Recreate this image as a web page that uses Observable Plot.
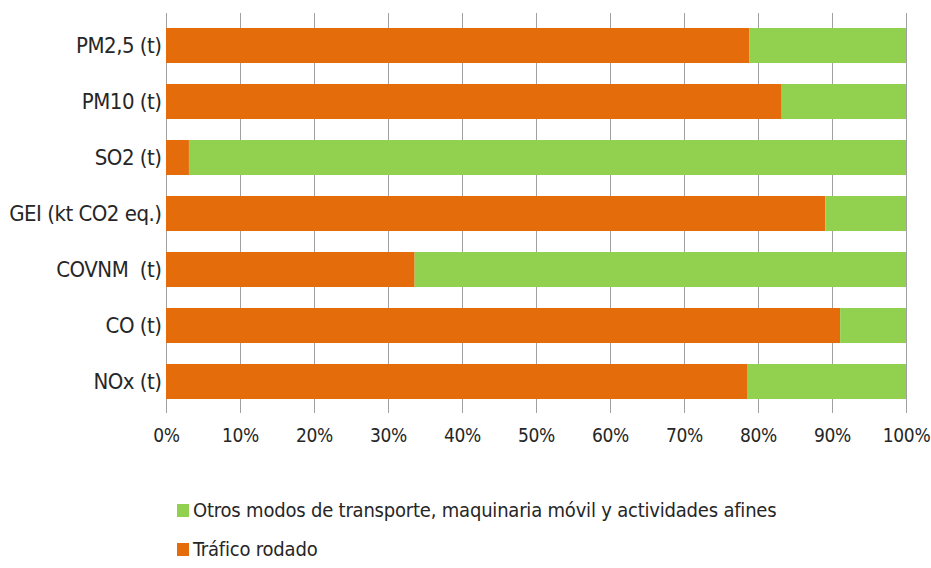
<!DOCTYPE html>
<html>
<head>
<meta charset="utf-8">
<script src="https://cdn.jsdelivr.net/npm/d3@7"></script>
<script src="https://cdn.jsdelivr.net/npm/@observablehq/plot@0.6"></script>
<style>
  body { margin: 0; background: #fff; font-family: "DejaVu Sans Condensed", "Liberation Sans", sans-serif; }
  #chart { position: relative; width: 931px; height: 568px; }
  .legend { position: absolute; left: 177px; font-size: 20px; letter-spacing: -0.2px; line-height: 24px; color: #262626; display: flex; align-items: center; white-space: nowrap; }
  .sw { display: inline-block; width: 12px; height: 13px; margin-right: 4px; }
</style>
</head>
<body>
<div id="chart"></div>
<script>
const categories = ["PM2,5 (t)", "PM10 (t)", "SO2 (t)", "GEI (kt CO2 eq.)", "COVNM  (t)", "CO (t)", "NOx (t)"];
const trafico = [78.8, 83.2, 3.1, 89.1, 33.6, 91.1, 78.6];
const otros = [21.2, 16.8, 96.9, 10.9, 66.4, 8.9, 21.4];
const seriesNames = ["Tráfico rodado", "Otros modos de transporte, maquinaria móvil y actividades afines"];
const seriesColors = ["#E46C0A", "#92D050"];
const xTicks = [0, 10, 20, 30, 40, 50, 60, 70, 80, 90, 100];

const rows = [];
categories.forEach((c, i) => rows.push({cat: c, series: seriesNames[0], value: trafico[i]}));
categories.forEach((c, i) => rows.push({cat: c, series: seriesNames[1], value: otros[i]}));

const plot = Plot.plot({
  width: 931,
  height: 460,
  marginTop: 13,
  marginBottom: 47,
  marginLeft: 166,
  marginRight: 25,
  style: {fontFamily: '"DejaVu Sans Condensed", sans-serif', color: "#262626", background: "#fff"},
  x: {domain: [0, 100], ticks: xTicks, tickFormat: d => d + "%", label: null},
  y: {domain: categories, paddingInner: 0.377, paddingOuter: 0.2, label: null},
  color: {domain: seriesNames, range: seriesColors},
  marks: [
    Plot.gridX(xTicks, {stroke: "#a0a0a0", strokeOpacity: 1, strokeWidth: 1}),
    Plot.ruleY([0], {frameAnchor: "bottom", stroke: "#a0a0a0"}),
    Plot.barX(rows, Plot.stackX({x: "value", y: "cat", fill: "series", order: seriesNames})),
    Plot.axisX({ticks: xTicks, tickFormat: d => d + "%", tickSize: 0, tickPadding: 15, fontSize: 19, label: null}),
    Plot.axisY({tickSize: 0, tickPadding: 5, fontSize: 22, label: null})
  ]
});
plot.querySelectorAll("g[aria-label='x-axis tick label'] text").forEach(t => t.setAttribute("letter-spacing", "-0.3"));
plot.querySelectorAll("g[aria-label='y-axis tick label'] text").forEach(t => t.setAttribute("letter-spacing", "-0.5"));
plot.querySelectorAll("text").forEach(t => t.setAttribute("fill", "#262626"));
const chart = document.getElementById("chart");
chart.appendChild(plot);

const legendItems = [
  {name: seriesNames[1], color: seriesColors[1], top: 498},
  {name: seriesNames[0], color: seriesColors[0], top: 537}
];
legendItems.forEach(it => {
  const d = document.createElement("div");
  d.className = "legend";
  d.style.top = it.top + "px";
  const s = document.createElement("span");
  s.className = "sw";
  s.style.background = it.color;
  d.appendChild(s);
  d.appendChild(document.createTextNode(it.name));
  chart.appendChild(d);
});
</script>
</body>
</html>
